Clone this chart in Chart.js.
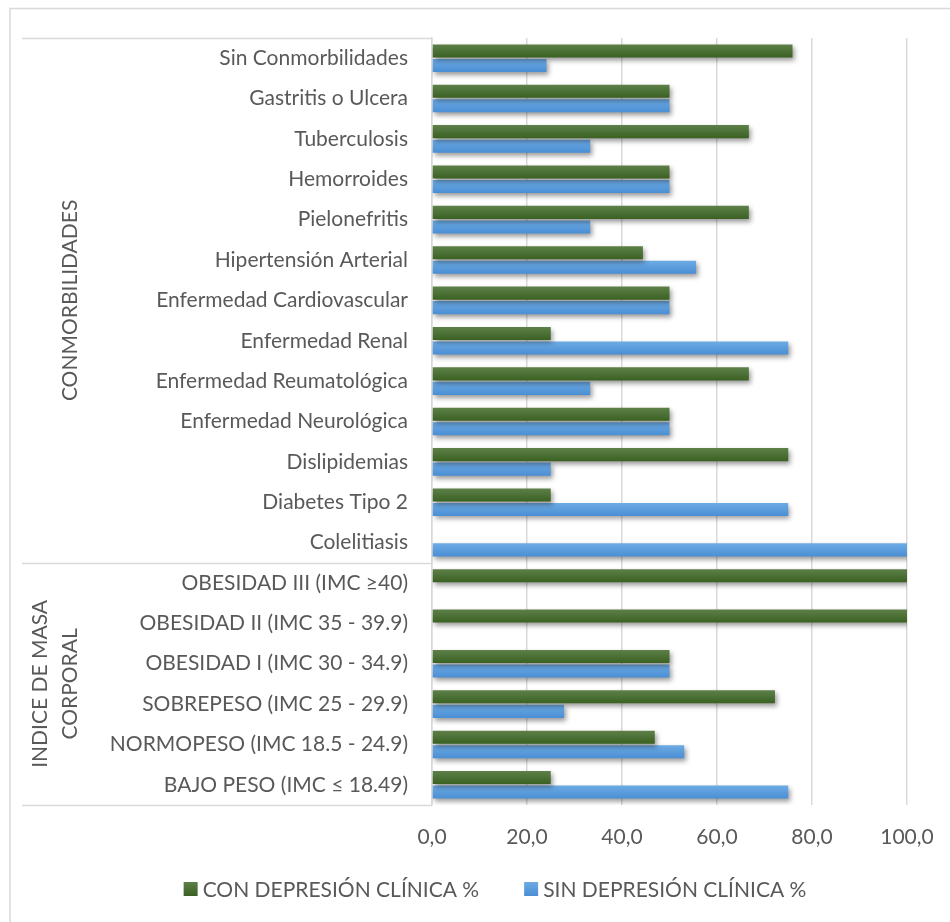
<!DOCTYPE html>
<html lang="es">
<head>
<meta charset="utf-8">
<title>Depresión clínica según comorbilidades e IMC</title>
<script src="https://cdn.jsdelivr.net/npm/chart.js@4.4.1/dist/chart.umd.min.js"></script>
<style>
  html, body { margin: 0; padding: 0; background: #fff; }
  canvas { display: block; }
</style>
</head>
<body>
<canvas id="grafico" width="950" height="922"></canvas>
<script>
// categorias de arriba hacia abajo
const categorias = [
  'Sin Conmorbilidades', 'Gastritis o Ulcera', 'Tuberculosis', 'Hemorroides',
  'Pielonefritis', 'Hipertensión Arterial', 'Enfermedad Cardiovascular',
  'Enfermedad Renal', 'Enfermedad Reumatológica', 'Enfermedad Neurológica',
  'Dislipidemias', 'Diabetes Tipo 2', 'Colelitiasis',
  'OBESIDAD III (IMC ≥40)', 'OBESIDAD II (IMC 35 - 39.9)', 'OBESIDAD I (IMC 30 - 34.9)',
  'SOBREPESO (IMC 25 - 29.9)', 'NORMOPESO (IMC 18.5 - 24.9)', 'BAJO PESO (IMC ≤ 18.49)'
];
const conDepresion = [75.9, 50, 66.7, 50, 66.7, 44.4, 50, 25, 66.7, 50, 75, 25, 0, 100, 100, 50, 72.2, 46.9, 25];
const sinDepresion = [24.1, 50, 33.3, 50, 33.3, 55.6, 50, 75, 33.3, 50, 25, 75, 100, 0, 0, 50, 27.8, 53.1, 75];
const etiquetasSeries = ['CON DEPRESIÓN CLÍNICA %', 'SIN DEPRESIÓN CLÍNICA %'];
const grupos = [
  { lineas: ['CONMORBILIDADES'], desde: 0, hasta: 12 },
  { lineas: ['INDICE DE MASA', 'CORPORAL'], desde: 13, hasta: 18 }
];
const ticksX = [0, 20, 40, 60, 80, 100];

const FUENTE = 'Lato, "Open Sans", sans-serif';
const TAM = 21;
const GRIS_TEXTO = '#595959';
const GRIS_LINEA = '#d9d9d9';
const VERDE = ['#5e8049', '#3a6122'];
const AZUL = ['#6dabe4', '#4a8ed4'];
const CAT_PCT = 0.72;
const BAR_PCT = 0.9;

// degradado vertical dentro de cada barra
function degradado(colores, dsIndex) {
  return (ctx) => {
    if (ctx.type !== 'data') return colores[1];
    const esc = ctx.chart.scales.y;
    if (!esc || esc.height === undefined) return colores[1];
    const centro = esc.getPixelForValue(ctx.dataIndex);
    const banda = Math.abs(esc.getPixelForValue(1) - esc.getPixelForValue(0)) * CAT_PCT;
    const trozo = banda / 2;
    const ini = centro - banda / 2 + dsIndex * trozo + trozo * (1 - BAR_PCT) / 2;
    const fin = ini + trozo * BAR_PCT;
    const g = ctx.chart.ctx.createLinearGradient(0, ini, 0, fin);
    g.addColorStop(0, colores[0]);
    g.addColorStop(1, colores[1]);
    return g;
  };
}

const decoracion = {
  id: 'decoracion',
  beforeDraw(chart) {
    const c = chart.ctx;
    c.save();
    c.strokeStyle = GRIS_LINEA;
    c.lineWidth = 1.5;
    c.beginPath();
    c.moveTo(10, chart.height);
    c.lineTo(10, 8.5);
    c.lineTo(chart.width, 8.5);
    c.stroke();
    c.restore();
  },
  beforeDatasetsDraw(chart) {
    const c = chart.ctx;
    c.save();
    c.shadowColor = 'rgba(0,0,0,0.4)';
    c.shadowBlur = 5;
    c.shadowOffsetX = 2;
    c.shadowOffsetY = 3;
  },
  afterDatasetsDraw(chart) {
    chart.ctx.restore();
  },
  afterDraw(chart) {
    const c = chart.ctx;
    const area = chart.chartArea;
    const y = chart.scales.y;
    c.save();

    // lineas de separacion del eje agrupado
    const cortes = [area.top];
    grupos.forEach((g, i) => {
      if (i < grupos.length - 1) {
        cortes.push((y.getPixelForValue(g.hasta) + y.getPixelForValue(g.hasta + 1)) / 2);
      }
    });
    cortes.push(area.bottom);
    c.strokeStyle = GRIS_LINEA;
    c.lineWidth = 1.5;
    cortes.forEach((py) => {
      c.beginPath();
      c.moveTo(22, Math.round(py) + 0.5);
      c.lineTo(area.left, Math.round(py) + 0.5);
      c.stroke();
    });

    // nombres de grupo en vertical
    c.fillStyle = GRIS_TEXTO;
    c.font = TAM + 'px ' + FUENTE;
    c.textAlign = 'center';
    c.textBaseline = 'middle';
    grupos.forEach((g, i) => {
      const cy = (cortes[i] + cortes[i + 1]) / 2;
      const n = g.lineas.length;
      g.lineas.forEach((txt, k) => {
        const cx = 70 - (n - 1 - k) * 30;
        c.save();
        c.translate(cx, cy);
        c.rotate(-Math.PI / 2);
        c.fillText(txt, 0, 0);
        c.restore();
      });
    });

    // leyenda
    const caja = 14, hueco = 5, sep = 45, ly = 889;
    const anchos = chart.data.datasets.map((d) => caja + hueco + c.measureText(d.label).width);
    const total = anchos.reduce((a, b) => a + b, 0) + sep * (anchos.length - 1);
    let x = 495 - total / 2;
    c.textAlign = 'left';
    chart.data.datasets.forEach((d, i) => {
      const cols = i === 0 ? VERDE : AZUL;
      const g = c.createLinearGradient(0, ly - caja / 2, 0, ly + caja / 2);
      g.addColorStop(0, cols[0]);
      g.addColorStop(1, cols[1]);
      c.fillStyle = g;
      c.fillRect(x, ly - caja / 2, caja, caja);
      c.fillStyle = GRIS_TEXTO;
      c.fillText(d.label, x + caja + hueco, ly + 1);
      x += anchos[i] + sep;
    });
    c.restore();
  }
};

new Chart(document.getElementById('grafico'), {
  type: 'bar',
  data: {
    labels: categorias,
    datasets: [
      {
        label: etiquetasSeries[0],
        data: conDepresion,
        backgroundColor: degradado(VERDE, 0),
        categoryPercentage: CAT_PCT,
        barPercentage: BAR_PCT
      },
      {
        label: etiquetasSeries[1],
        data: sinDepresion,
        backgroundColor: degradado(AZUL, 1),
        categoryPercentage: CAT_PCT,
        barPercentage: BAR_PCT
      }
    ]
  },
  options: {
    indexAxis: 'y',
    responsive: false,
    animation: false,
    layout: { padding: { top: 38, right: 43, left: 0, bottom: 0 } },
    plugins: {
      legend: { display: false },
      tooltip: { enabled: false }
    },
    scales: {
      x: {
        min: 0,
        max: 100,
        afterBuildTicks: (s) => { s.ticks = ticksX.map((v) => ({ value: v })); },
        afterFit: (s) => {
          s.height = 117;
          s.paddingLeft = 0;
          s.paddingRight = 0;
        },
        grid: { color: GRIS_LINEA, lineWidth: 1.5, drawTicks: false },
        border: { display: false },
        ticks: {
          padding: 20,
          color: GRIS_TEXTO,
          font: { family: FUENTE, size: TAM },
          callback: (v) => Number(v).toFixed(1).replace('.', ',')
        }
      },
      y: {
        afterFit: (s) => {
          s.width = 432;
          s.paddingTop = 0;
          s.paddingBottom = 0;
        },
        grid: { display: false, drawTicks: false },
        border: { display: true, color: GRIS_LINEA, width: 1.5 },
        ticks: {
          autoSkip: false,
          padding: 24,
          color: GRIS_TEXTO,
          font: { family: FUENTE, size: TAM }
        }
      }
    }
  },
  plugins: [decoracion]
});
</script>
</body>
</html>
